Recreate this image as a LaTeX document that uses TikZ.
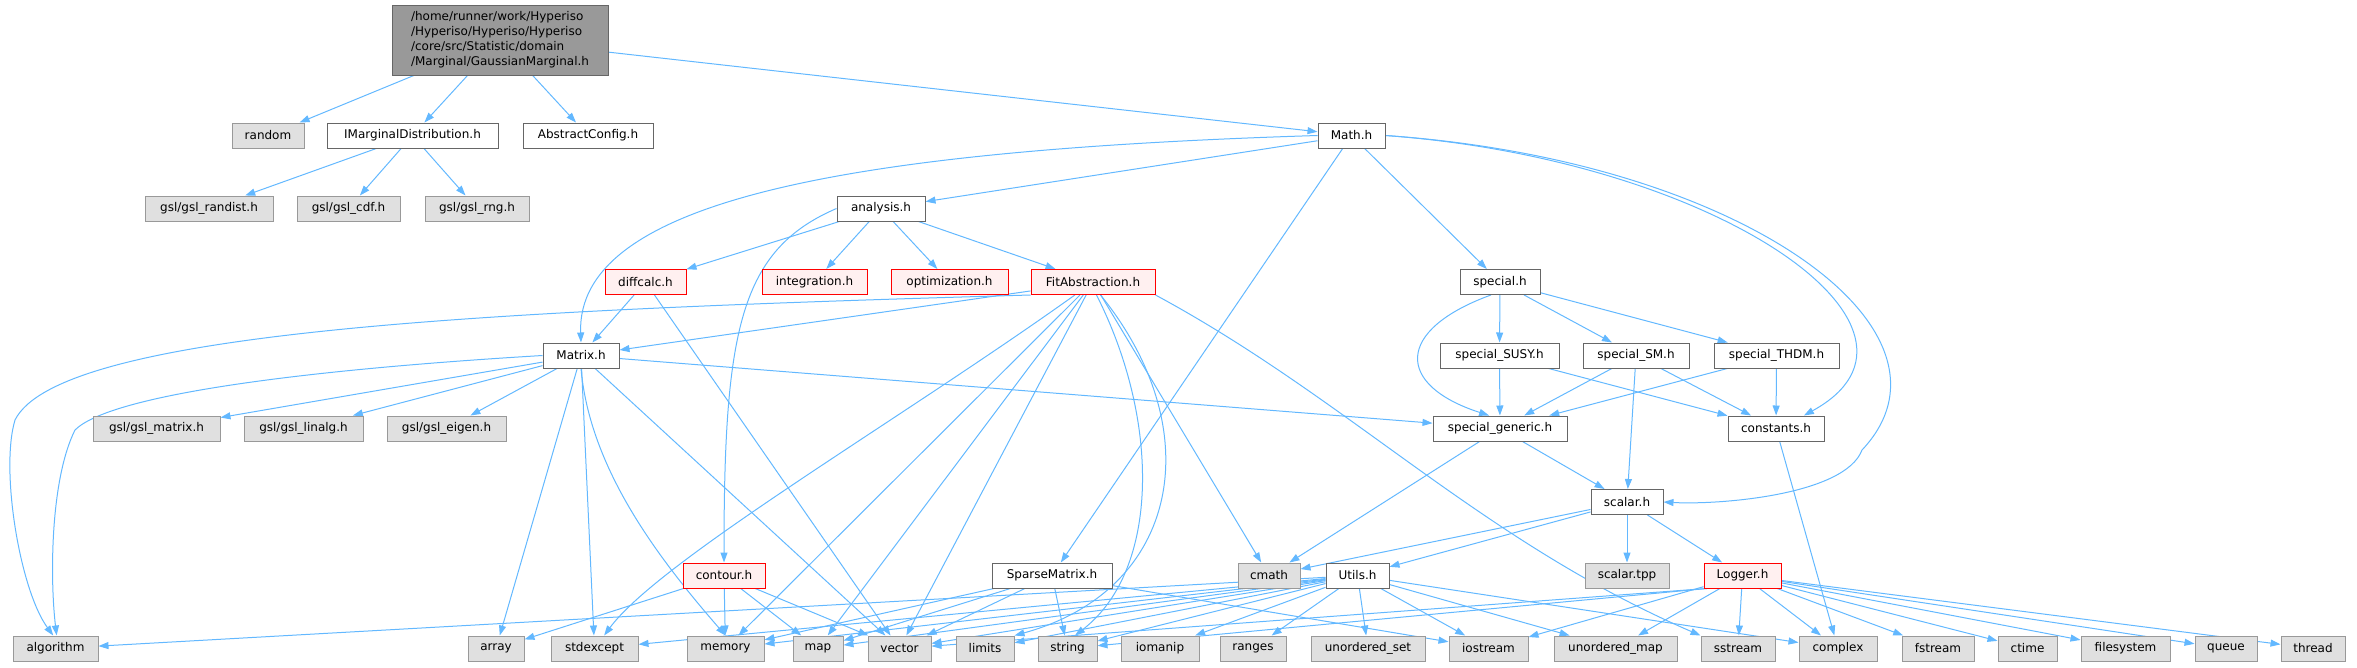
\documentclass[tikz,border=0pt]{standalone}
\usepackage{fontspec}
\setmainfont{DejaVu Sans}
\usetikzlibrary{arrows.meta}

\definecolor{edgeblue}{HTML}{63B8FF}
\definecolor{hdrline}{HTML}{666666}
\definecolor{sysline}{HTML}{999999}
\definecolor{sysfill}{HTML}{E0E0E0}
\definecolor{extfill}{HTML}{FFF0F0}
\definecolor{rootfill}{HTML}{999999}

\pgfdeclarelayer{edges}
\pgfsetlayers{edges,main}

\tikzset{
  box/.style={rectangle, inner sep=0pt, minimum height=25, line width=1pt,
    font=\fontsize{12}{15}\selectfont},
  hdr/.style={box, draw=hdrline, fill=white},
  sys/.style={box, draw=sysline, fill=sysfill},
  ext/.style={box, draw=red, fill=extfill},
  root/.style={box, draw=hdrline, fill=rootfill, align=left, minimum height=70},
  dep/.style={draw=edgeblue, line width=1pt, -{Triangle[length=10pt,width=7pt]}},
}

\begin{document}
\begin{tikzpicture}[x=1pt, y=-1pt]
\useasboundingbox (0,0) rectangle (2357,667);
% GaussianMarginal.h
%   -> random, IMarginalDistribution.h, AbstractConfig.h, Math.h
%   Math.h -> analysis.h, Matrix.h, SparseMatrix.h, special.h, constants.h, scalar.h
\node[root, minimum width=216] (top) at (500,40)
  {/home/runner/work/Hyperiso\\/Hyperiso/Hyperiso/Hyperiso\\/core/src/Statistic/domain\\/Marginal/GaussianMarginal.h};

\node[sys, minimum width=72]  (random)   at (268,135.5)  {random};
\node[hdr, minimum width=171] (imd)      at (412.5,135.5) {IMarginalDistribution.h};
\node[hdr, minimum width=130] (acfg)     at (588,135.5)  {AbstractConfig.h};
\node[hdr, minimum width=67]  (math)     at (1351.5,135.5) {Math.h};

\node[sys, minimum width=128] (randist)  at (209,208.5)  {gsl/gsl\_randist.h};
\node[sys, minimum width=103] (cdf)      at (348.5,208.5) {gsl/gsl\_cdf.h};
\node[sys, minimum width=104] (rng)      at (477,208.5)  {gsl/gsl\_rng.h};
\node[hdr, minimum width=88]  (analysis) at (881,208.5)  {analysis.h};

\node[ext, minimum width=81]  (diffcalc) at (645.5,282)  {diffcalc.h};
\node[ext, minimum width=105] (integ)    at (814.5,282)  {integration.h};
\node[ext, minimum width=117] (optim)    at (949.5,282)  {optimization.h};
\node[ext, minimum width=124] (fitabs)   at (1093,282)   {FitAbstraction.h};
\node[hdr, minimum width=80]  (special)  at (1500,282)   {special.h};

\node[hdr, minimum width=76]  (matrix)   at (581,355.5)  {Matrix.h};
\node[hdr, minimum width=119] (susy)     at (1499.5,355.5) {special\_SUSY.h};
\node[hdr, minimum width=106] (sm)       at (1636,355.5) {special\_SM.h};
\node[hdr, minimum width=125] (thdm)     at (1776.5,355.5) {special\_THDM.h};

\node[sys, minimum width=127] (gslmat)   at (156.5,428.5) {gsl/gsl\_matrix.h};
\node[sys, minimum width=119] (gsllin)   at (303.5,428.5) {gsl/gsl\_linalg.h};
\node[sys, minimum width=119] (gsleig)   at (446.5,428.5) {gsl/gsl\_eigen.h};
\node[hdr, minimum width=134] (generic)  at (1500,428.5) {special\_generic.h};
\node[hdr, minimum width=96]  (const)    at (1776,428.5) {constants.h};

\node[hdr, minimum width=72]  (scalar)   at (1627,502)   {scalar.h};

\node[ext, minimum width=82]  (contour)  at (724,575.5)  {contour.h};
\node[hdr, minimum width=120] (sparse)   at (1052,575.5) {SparseMatrix.h};
\node[sys, minimum width=62]  (cmath)    at (1269,575.5) {cmath};
\node[hdr, minimum width=63]  (utils)    at (1357.5,575.5) {Utils.h};
\node[sys, minimum width=84]  (tpp)      at (1627,575.5) {scalar.tpp};
\node[ext, minimum width=77]  (logger)   at (1742.5,575.5) {Logger.h};

% standard headers
\node[sys, minimum width=85]  (algorithm) at (55.5,648.5)  {algorithm};
\node[sys, minimum width=56]  (array)     at (496,648.5)   {array};
\node[sys, minimum width=87]  (stdexcept) at (594.5,648.5) {stdexcept};
\node[sys, minimum width=77]  (memory)    at (725.5,648.5) {memory};
\node[sys, minimum width=50]  (map)       at (818,648.5)   {map};
\node[sys, minimum width=63]  (vector)    at (899.5,648.5) {vector};
\node[sys, minimum width=58]  (limits)    at (985,648.5)   {limits};
\node[sys, minimum width=59]  (string)    at (1067.5,648.5) {string};
\node[sys, minimum width=78]  (iomanip)   at (1160,648.5)  {iomanip};
\node[sys, minimum width=66]  (ranges)    at (1253,648.5)  {ranges};
\node[sys, minimum width=114] (uset)      at (1368,648.5)  {unordered\_set};
\node[sys, minimum width=79]  (iostream)  at (1488.5,648.5) {iostream};
\node[sys, minimum width=123] (umap)      at (1615.5,648.5) {unordered\_map};
\node[sys, minimum width=74]  (sstream)   at (1738,648.5)  {sstream};
\node[sys, minimum width=78]  (complex)   at (1838,648.5)  {complex};
\node[sys, minimum width=72]  (fstream)   at (1938,648.5)  {fstream};
\node[sys, minimum width=59]  (ctime)     at (2027.5,648.5) {ctime};
\node[sys, minimum width=89]  (filesystem) at (2125.5,648.5) {filesystem};
\node[sys, minimum width=62]  (queue)     at (2226,648.5)  {queue};
\node[sys, minimum width=64]  (thread)    at (2313,648.5)  {thread};

\begin{pgfonlayer}{edges}
% GaussianMarginal.h
\draw[dep] (top) -- (random);
\draw[dep] (top) -- (imd);
\draw[dep] (top) -- (acfg);
\draw[dep] (top) -- (math);
\draw[dep] (imd) -- (randist);
\draw[dep] (imd) -- (cdf);
\draw[dep] (imd) -- (rng);
% Math.h
\draw[dep] (math) -- (analysis);
\draw[dep] (math.west) .. controls (850,150) and (576,200) .. (matrix.north);
\draw[dep] (math) -- (sparse);
\draw[dep] (math) -- (special);
\draw[dep] (math.east) .. controls (1720,160) and (1960,330) .. (const.25);
\draw[dep] (math.east) .. controls (1740,160) and (1975,330) .. (1862,450)
  .. controls (1845,495) and (1720,505) .. (scalar.east);
% analysis.h
\draw[dep] (analysis) -- (diffcalc);
\draw[dep] (analysis) -- (integ);
\draw[dep] (analysis) -- (optim);
\draw[dep] (analysis) -- (fitabs);
\draw[dep] (analysis.west) .. controls (740,250) and (724,330) .. (contour.north);
\draw[dep] (diffcalc) -- (matrix);
\draw[dep] (diffcalc) -- (vector);
% FitAbstraction.h
\draw[dep] (fitabs) -- (matrix);
\draw[dep] (fitabs.south west) .. controls (500,310) and (60,330) .. (15,420)
  .. controls (0,470) and (20,590) .. (algorithm.100);
\draw[dep] (fitabs) .. controls (900,420) and (660,560) .. (stdexcept);
\draw[dep] (fitabs) -- (memory);
\draw[dep] (fitabs) -- (map);
\draw[dep] (fitabs) -- (vector);
\draw[dep] (fitabs.-60) .. controls (1210,430) and (1180,590) .. (limits.north east);
\draw[dep] (fitabs.-75) .. controls (1160,420) and (1160,570) .. (string.60);
\draw[dep] (fitabs) -- (cmath);
\draw[dep] (fitabs.south east) .. controls (1350,400) and (1480,540) .. (sstream.north west);
% Matrix.h
\draw[dep] (matrix) -- (gslmat);
\draw[dep] (matrix) -- (gsllin);
\draw[dep] (matrix) -- (gsleig);
\draw[dep] (matrix.west) .. controls (300,370) and (110,395) .. (75,430)
  .. controls (50,480) and (50,580) .. (algorithm.85);
\draw[dep] (matrix) -- (array);
\draw[dep] (matrix) -- (stdexcept);
\draw[dep] (matrix.south) .. controls (590,470) and (660,560) .. (memory.north);
\draw[dep] (matrix) -- (vector);
\draw[dep] (matrix) -- (generic);
% special.h
\draw[dep] (special.235) .. controls (1395,330) and (1395,385) .. (generic.130);
\draw[dep] (special) -- (susy);
\draw[dep] (special) -- (sm);
\draw[dep] (special) -- (thdm);
\draw[dep] (susy) -- (generic);
\draw[dep] (susy) -- (const);
\draw[dep] (sm) -- (generic);
\draw[dep] (sm) -- (const);
\draw[dep] (sm) -- (scalar);
\draw[dep] (thdm) -- (generic);
\draw[dep] (thdm) -- (const);
\draw[dep] (generic) -- (cmath);
\draw[dep] (generic) -- (scalar);
\draw[dep] (const) -- (complex);
% scalar.h
\draw[dep] (scalar) -- (cmath);
\draw[dep] (scalar) -- (utils);
\draw[dep] (scalar) -- (tpp);
\draw[dep] (scalar) -- (logger);
% contour.h
\draw[dep] (contour) -- (array);
\draw[dep] (contour) -- (memory);
\draw[dep] (contour) -- (map);
\draw[dep] (contour) -- (vector);
% SparseMatrix.h
\draw[dep] (sparse) -- (memory);
\draw[dep] (sparse) -- (map);
\draw[dep] (sparse) -- (vector);
\draw[dep] (sparse) -- (string);
\draw[dep] (sparse) -- (iostream);
% Utils.h
\draw[dep] (utils) -- (algorithm);
\draw[dep] (utils) -- (stdexcept);
\draw[dep] (utils) -- (memory);
\draw[dep] (utils) -- (map);
\draw[dep] (utils) -- (vector);
\draw[dep] (utils) -- (limits);
\draw[dep] (utils) -- (string);
\draw[dep] (utils) -- (iomanip);
\draw[dep] (utils) -- (ranges);
\draw[dep] (utils) -- (uset);
\draw[dep] (utils) -- (iostream);
\draw[dep] (utils) -- (umap);
\draw[dep] (utils) -- (complex);
% Logger.h
\draw[dep] (logger.200) -- (vector);
\draw[dep] (logger.200) -- (string);
\draw[dep] (logger) -- (iostream);
\draw[dep] (logger) -- (umap);
\draw[dep] (logger) -- (sstream);
\draw[dep] (logger) -- (complex);
\draw[dep] (logger) -- (fstream);
\draw[dep] (logger) -- (ctime);
\draw[dep] (logger) -- (filesystem);
\draw[dep] (logger) -- (queue);
\draw[dep] (logger) -- (thread);
\end{pgfonlayer}
\end{tikzpicture}
\end{document}
